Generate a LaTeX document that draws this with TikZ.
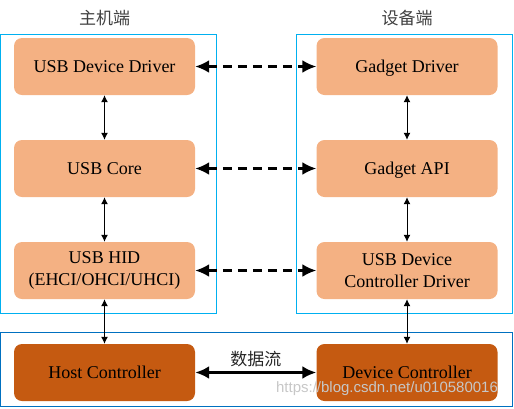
\documentclass[tikz,border=0pt]{standalone}
\usepackage{fontspec}
\setmainfont{Liberation Serif}
\setsansfont{Liberation Sans}
\newfontfamily\cjk{Noto Sans CJK SC}
\usepackage{tikz}
\usetikzlibrary{positioning,arrows.meta,calc,fit}
\definecolor{swfill}{HTML}{F4B183}
\definecolor{hwfill}{HTML}{C55A11}
\definecolor{sideframe}{HTML}{00B0F0}
\definecolor{busframe}{HTML}{0070C0}

\begin{document}
\begin{tikzpicture}[x=1pt,y=1pt,every node/.style={on grid,node distance=102pt},
    blk/.style={rounded corners=8pt,minimum width=181pt,minimum height=57pt,align=center,
      font=\fontsize{18pt}{22pt}\selectfont},
    sw/.style={blk,fill=swfill},
    hw/.style={blk,fill=hwfill},
    oneline/.style={text height=12pt,text depth=0pt},
    frame/.style={draw,line width=1pt,inner sep=0pt},
    ttl/.style={font=\cjk\fontsize{17pt}{20pt}\selectfont,text=black!75},
    link/.style={<->,>={Latex[length=7pt,width=7pt]},line width=1pt},
    peer/.style={<->,>={Latex[length=14pt,width=13pt]},line width=2.5pt,dash pattern=on 9pt off 6pt},
    flow/.style={<->,>={Latex[length=14pt,width=13pt]},line width=3.5pt}]
    \useasboundingbox (0,0) rectangle (514,-408);
    % host side
    \node[sw,oneline] (UDD) at (104.5,-66.5) {USB Device Driver};
    \node[sw,oneline,below of=UDD] (UC) {USB Core};
    \node[sw,below of=UC] (HID) {USB HID\\(EHCI/OHCI/UHCI)};
    \node[hw,oneline,below of=HID] (HC) {Host Controller};
    % device side
    \node[sw,oneline,node distance=302.5pt,right of=UDD] (GD) {Gadget Driver};
    \node[sw,oneline,below of=GD] (GA) {Gadget API};
    \node[sw,below of=GA] (UDC) {USB Device\\Controller Driver};
    \node[hw,oneline,below of=UDC] (DC) {Device Controller};
    % frames
    \node[frame,draw=sideframe,fit={($(UDD.north west)+(-13.5,3.5)$) ($(HID.south east)+(21.5,-14.5)$)}] (host) {};
    \node[frame,draw=sideframe,fit={($(GD.north west)+(-20,3.5)$) ($(UDC.south east)+(15,-14.5)$)}] (dev) {};
    \node[frame,draw=busframe,fit={($(HC.north west)+(-13.5,11.5)$) ($(DC.south east)+(15,-5.5)$)}] (bus) {};
    \node[ttl,node distance=48pt,above of=UDD] (hostttl) {主机端};
    \node[ttl,node distance=48pt,above of=GD] (devttl) {设备端};
    % links
    \draw[link] (UDD) -- (UC);
    \draw[link] (UC) -- (HID);
    \draw[link] (HID) -- (HC);
    \draw[link] (GD) -- (GA);
    \draw[link] (GA) -- (UDC);
    \draw[link] (UDC) -- (DC);
    \draw[peer] (UDD) -- (GD);
    \draw[peer] (UC) -- (GA);
    \draw[peer] (HID) -- (UDC);
    \draw[flow] (HC) -- node[ttl,text=black!85,above=1pt] (flowttl) {数据流} (DC);
    \node[font=\sffamily\fontsize{15pt}{15pt}\selectfont,text=black!22] (wm) at (387,-389) {https://blog.csdn.net/u010580016};
\end{tikzpicture}
\end{document}
